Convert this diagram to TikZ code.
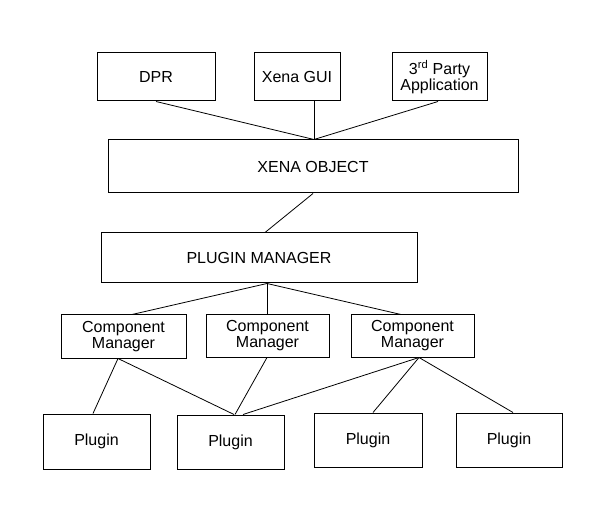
\documentclass[tikz,border=0pt]{standalone}
\usepackage{fontspec}
\setmainfont{Liberation Sans}
\begin{document}
\begin{tikzpicture}[x=1pt,y=-1pt,box/.style={draw,line width=1pt,inner sep=0pt,align=center,font=\fontsize{16}{16}\selectfont},link/.style={line width=0.8pt}]
                \useasboundingbox[fill=white] (0,0) rectangle (605,529);
                \node[box,minimum width=118,minimum height=48](dpr) at (156,77){DPR};
                \node[box,minimum width=86,minimum height=48](gui) at (297,77){Xena GUI};
                \node[box,minimum width=95,minimum height=48](third) at (439.5,77){3\textsuperscript{rd} Party\\Application};
                \node[box,minimum width=410,minimum height=53](xo) at (313,166.5){XENA OBJECT};
                \node[box,minimum width=316,minimum height=50](pm) at (259,258){PLUGIN MANAGER};
                \node[box,minimum width=125,minimum height=43](cm1) at (123.5,336.5){Component\\Manager};
                \node[box,minimum width=123,minimum height=42](cm2) at (267.5,336){Component\\Manager};
                \node[box,minimum width=123,minimum height=42](cm3) at (412.5,336){Component\\Manager};
                \node[box,minimum width=107,minimum height=55](p1) at (96.5,441.5){Plugin};
                \node[box,minimum width=107,minimum height=54](p2) at (230.5,442){Plugin};
                \node[box,minimum width=108,minimum height=54](p3) at (368,440){Plugin};
                \node[box,minimum width=106,minimum height=54](p4) at (509,440){Plugin};
                \draw[link](dpr.south) -- ([xshift=1]xo.north);
                \draw[link]([xshift=17]gui.south) -- ([xshift=1]xo.north);
                \draw[link]([xshift=-1.5]third.south) -- ([xshift=1]xo.north);
                \draw[link](xo.south) -- ([xshift=6]pm.north);
                \draw[link]([xshift=8]pm.south) -- ([xshift=8.5]cm1.north);
                \draw[link]([xshift=8]pm.south) -- ([xshift=-0.5]cm2.north);
                \draw[link]([xshift=8]pm.south) -- ([xshift=-11.5]cm3.north);
                \draw[link]([xshift=-5.5]cm1.south) -- ([xshift=-3.5]p1.north);
                \draw[link]([xshift=-5.5]cm1.south) -- ([xshift=3.5]p2.north);
                \draw[link]([xshift=-0.5]cm2.south) -- ([xshift=4.5]p2.north);
                \draw[link]([xshift=6.5]cm3.south) -- ([xshift=12.5]p2.north);
                \draw[link]([xshift=6.5]cm3.south) -- ([xshift=5]p3.north);
                \draw[link]([xshift=6.5]cm3.south) -- ([xshift=4]p4.north);
            \end{tikzpicture}
\end{document}
